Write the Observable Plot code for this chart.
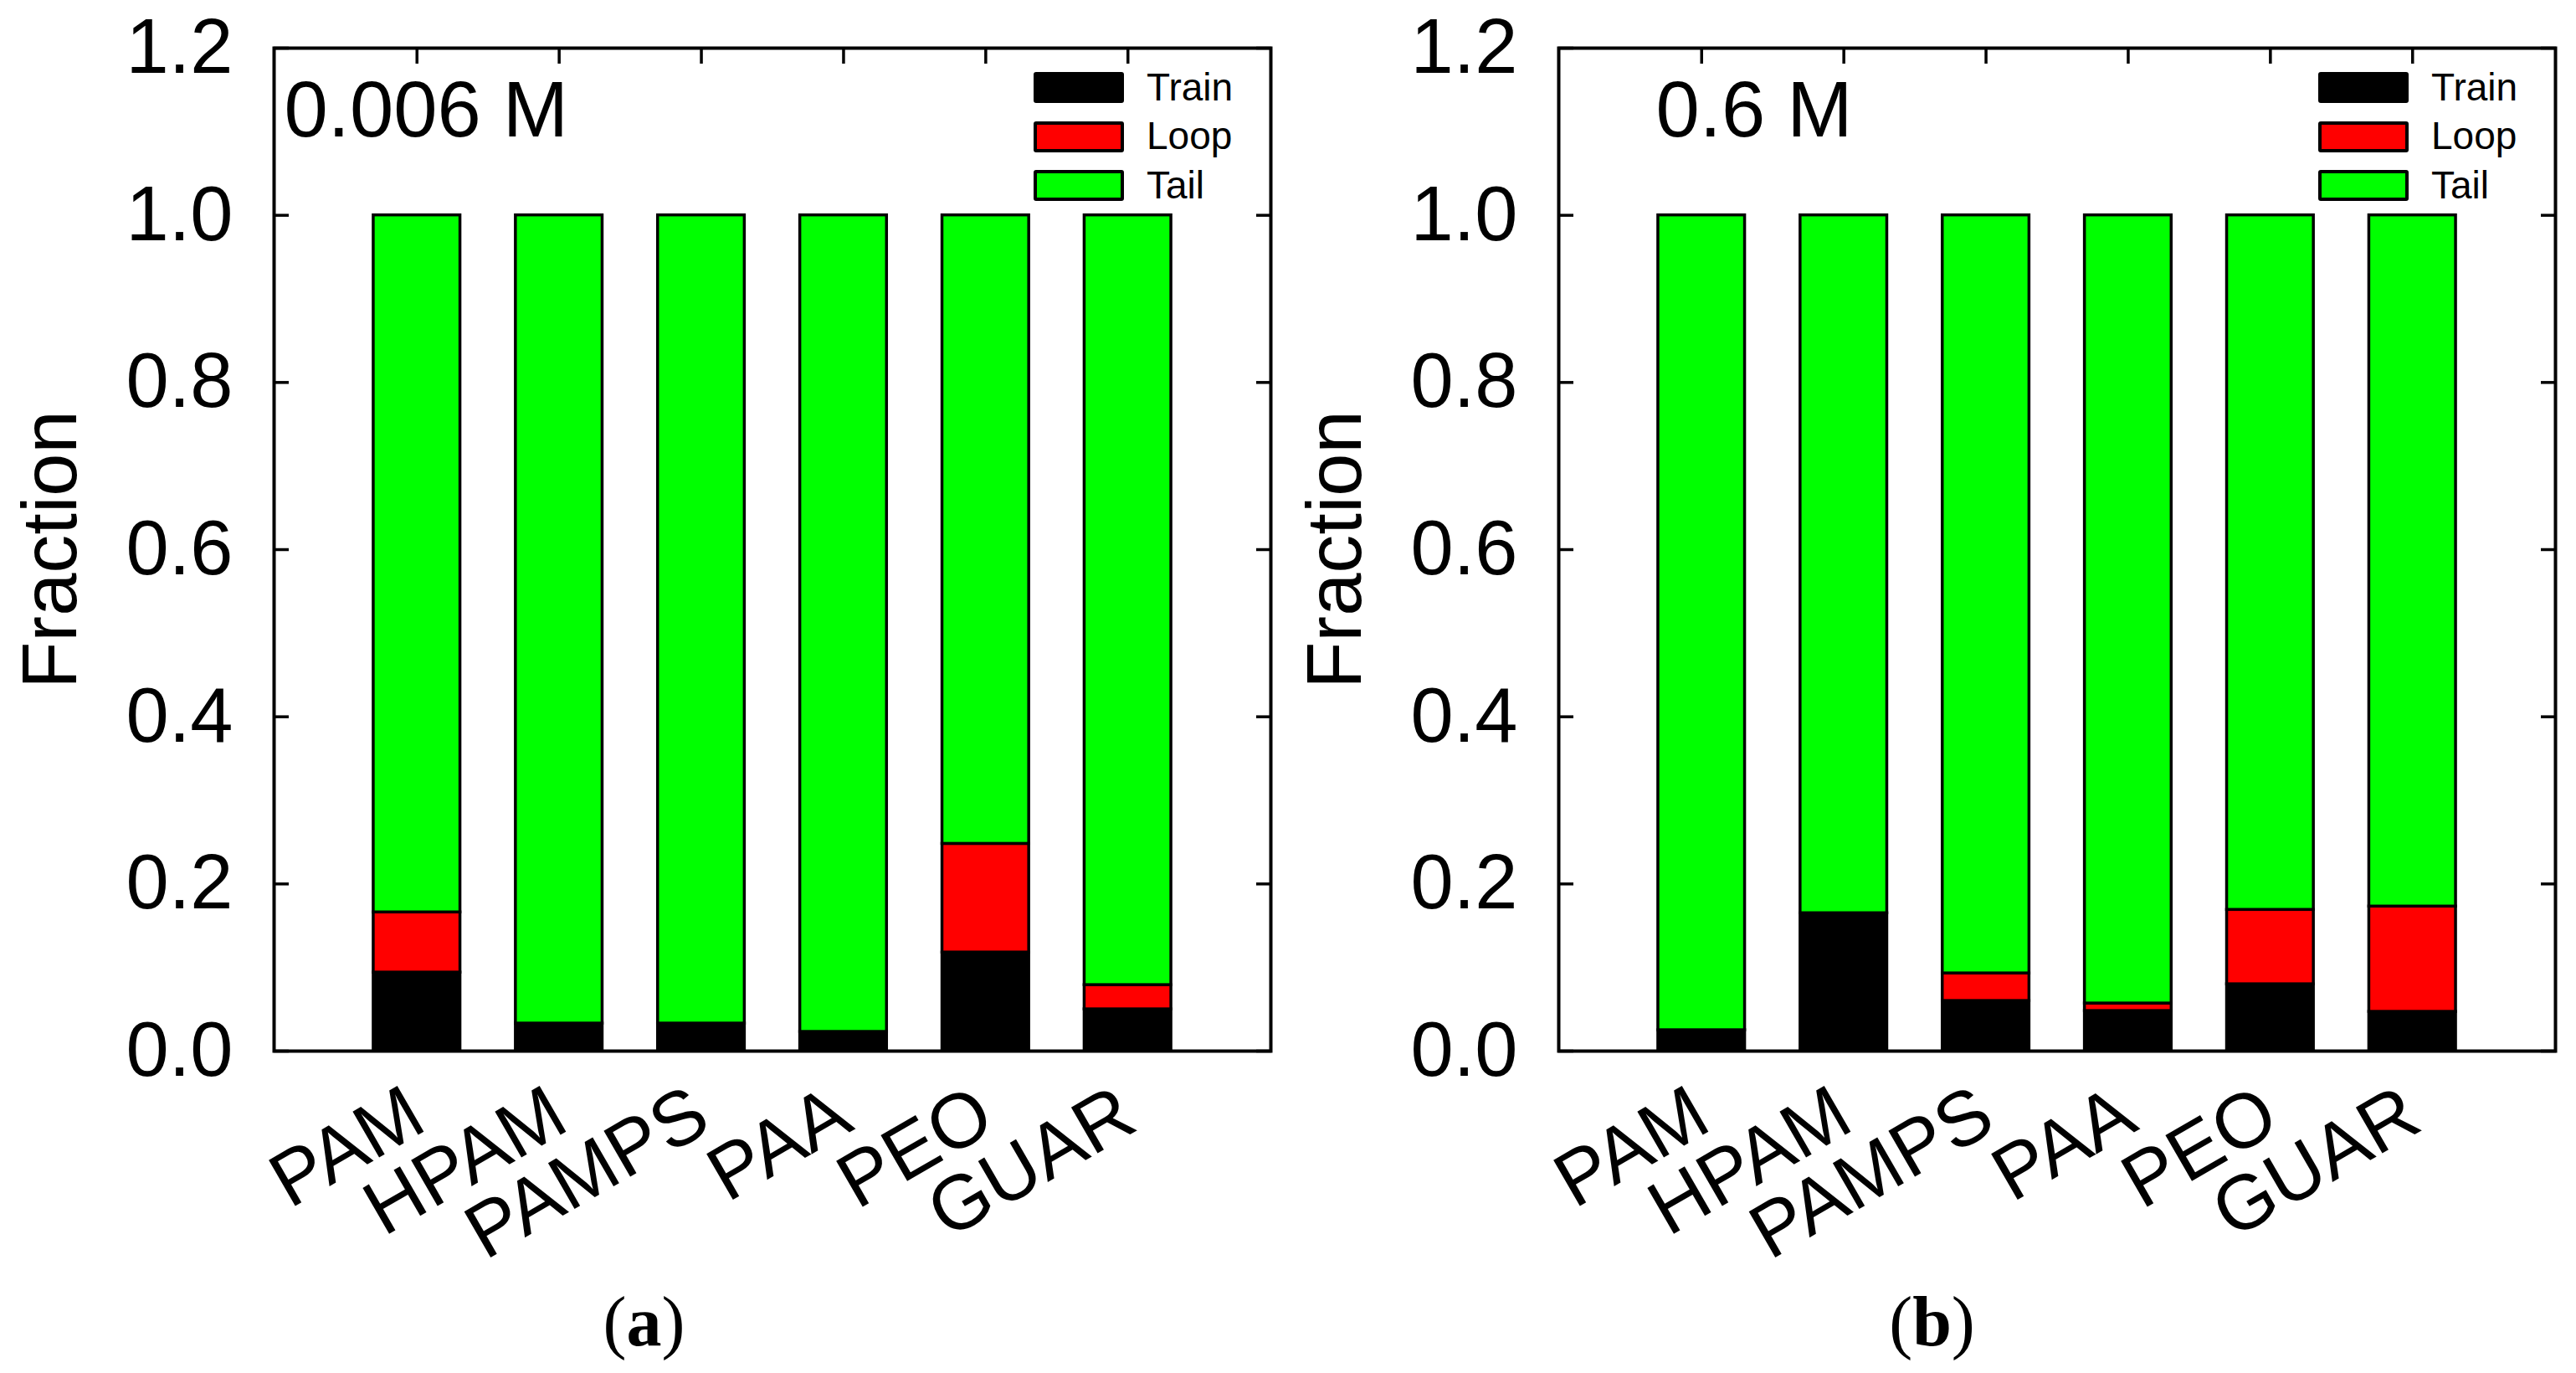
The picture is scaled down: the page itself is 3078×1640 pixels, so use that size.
<!DOCTYPE html>
<html>
<head>
<meta charset="utf-8">
<script src="https://cdn.jsdelivr.net/npm/d3@7"></script>
<script src="https://cdn.jsdelivr.net/npm/@observablehq/plot@0.6"></script>
<style>
  html, body { margin: 0; padding: 0; background: #fff; }
  body { width: 3078px; height: 1640px; overflow: hidden; }
  #wrap { display: flex; width: 3078px; height: 1640px; }
  .panel { position: relative; width: 1539px; height: 1640px; }
  .panel svg { display: block; overflow: visible; }
  .legend { position: absolute; font-family: "Liberation Sans", Arial, sans-serif; font-size: 46px; color: #000; }
  .lrow { position: absolute; left: 0; height: 37px; white-space: nowrap; }
  .sw { position: absolute; left: 0; top: 0; width: 108px; height: 37px; box-sizing: border-box; border: 4px solid #000; border-radius: 3px; }
  .lt { position: absolute; left: 135px; top: 50%; transform: translateY(-52%); line-height: 1; }
  .cap { position: absolute; top: 1537px; left: 0; width: 1539px; text-align: center; font-family: "Liberation Serif", "Times New Roman", serif; font-size: 84px; line-height: 84px; }
</style>
</head>
<body>
<div id="wrap"></div>
<script>
// ---- data ----
const categories = ["PAM", "HPAM", "PAMPS", "PAA", "PEO", "GUAR"];
const seriesNames = ["Train", "Loop", "Tail"];
const seriesColors = ["#000000", "#ff0000", "#00ff00"];
const yTicks = [0, 0.2, 0.4, 0.6, 0.8, 1.0, 1.2];

// panel (a) 0.006 M
const trainA = [0.094, 0.033, 0.033, 0.023, 0.118, 0.050];
const loopA  = [0.072, 0.000, 0.000, 0.000, 0.130, 0.029];
const tailA  = [0.834, 0.967, 0.967, 0.977, 0.752, 0.921];

// panel (b) 0.6 M
const trainB = [0.025, 0.165, 0.060, 0.048, 0.080, 0.047];
const loopB  = [0.000, 0.000, 0.033, 0.009, 0.089, 0.126];
const tailB  = [0.975, 0.835, 0.907, 0.943, 0.831, 0.827];

const panels = [
  {label: "0.006 M", caption: "a", series: [trainA, loopA, tailA], marginLeft: 327, marginRight: 21, labelDx: 12},
  {label: "0.6 M",   caption: "b", series: [trainB, loopB, tailB], marginLeft: 323, marginRight: 25, labelDx: 116}
];

const W = 1539, H = 1500, MT = 57, MB = 245;
const FONT = "'Liberation Sans', Arial, Helvetica, sans-serif";

function longData(series) {
  const out = [];
  series.forEach((vals, s) => {
    vals.forEach((v, i) => out.push({cat: categories[i], series: seriesNames[s], value: v}));
  });
  return out;
}

const wrap = document.getElementById("wrap");

for (const p of panels) {
  const div = document.createElement("div");
  div.className = "panel";
  wrap.appendChild(div);

  const chart = Plot.plot({
    width: W,
    height: H,
    marginLeft: p.marginLeft,
    marginRight: p.marginRight,
    marginTop: MT,
    marginBottom: MB,
    style: {fontFamily: FONT, background: "white", color: "black", overflow: "visible"},
    x: {type: "band", domain: categories, paddingInner: 0.39, paddingOuter: 0.7, round: false, label: null},
    y: {domain: [0, 1.2], label: null},
    color: {domain: seriesNames, range: seriesColors},
    marks: [
      Plot.barY(longData(p.series), {
        x: "cat", y: "value", fill: "series", order: seriesNames,
        filter: d => d.value > 0,
        stroke: "black", strokeWidth: 3.5
      }),
      // inward ticks
      Plot.axisX({anchor: "top", tickSize: 18, dy: 18, fill: "none", label: null, strokeWidth: 3.5}),
      Plot.axisY({anchor: "left", ticks: yTicks, tickSize: 18, dx: 18, fill: "none", label: null, strokeWidth: 3.5}),
      Plot.axisY({anchor: "right", ticks: yTicks, tickSize: 18, dx: -18, fill: "none", label: null, strokeWidth: 3.5}),
      // y tick labels
      Plot.axisY({anchor: "left", ticks: yTicks, tickSize: 0, tickPadding: 49, tickFormat: d3.format(".1f"),
        fontSize: 92, label: null, fill: "black"}),
      // x category labels
      Plot.text(categories, {x: d => d, text: d => d, frameAnchor: "bottom", dy: 67, rotate: -30,
        textAnchor: "end", lineAnchor: "middle", fontSize: 92, fill: "black"}),
      // y axis title
      Plot.text(["Fraction"], {text: d => d, frameAnchor: "left", dx: -266, rotate: -90,
        textAnchor: "middle", lineAnchor: "middle", fontSize: 92, fill: "black"}),
      // panel concentration label
      Plot.text([p.label], {text: d => d, frameAnchor: "top-left", dx: p.labelDx, dy: 105,
        textAnchor: "start", lineAnchor: "bottom", fontSize: 94, fill: "black"}),
      Plot.frame({stroke: "black", strokeWidth: 4})
    ]
  });
  div.appendChild(chart);

  // legend overlay (inside the frame, top-right)
  const frameRight = W - p.marginRight;
  const leg = document.createElement("div");
  leg.className = "legend";
  leg.style.left = (frameRight - 283) + "px";
  leg.style.top = "86px";
  seriesNames.forEach((name, i) => {
    const row = document.createElement("div");
    row.className = "lrow";
    row.style.top = (i * 58.5) + "px";
    const sw = document.createElement("div");
    sw.className = "sw";
    sw.style.background = seriesColors[i];
    const t = document.createElement("div");
    t.className = "lt";
    t.textContent = name;
    row.appendChild(sw);
    row.appendChild(t);
    leg.appendChild(row);
  });
  div.appendChild(leg);

  const cap = document.createElement("div");
  cap.className = "cap";
  cap.innerHTML = "(<b>" + p.caption + "</b>)";
  div.appendChild(cap);
}
</script>
</body>
</html>
